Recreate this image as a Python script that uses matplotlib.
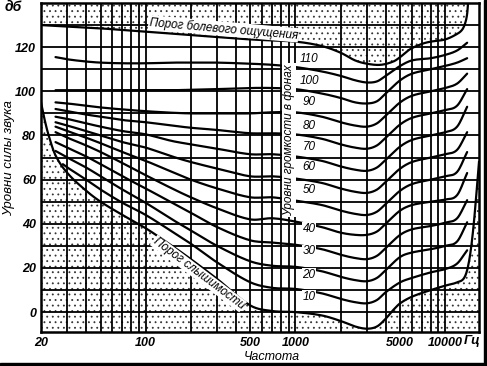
import numpy as np
import matplotlib
matplotlib.use("Agg")
import matplotlib.pyplot as plt

plt.rcParams['font.family'] = ['Liberation Sans', 'DejaVu Sans']
plt.rcParams['hatch.linewidth'] = 0.6

# ---------------- data ----------------
freqs = [25, 30, 40, 50, 70, 100, 150, 200, 300, 500, 700, 1000, 1500, 2000,
         2500, 3000, 3500, 4000, 5000, 6000, 8000, 10000, 12000, 14000]
freqs_10 = [28, 30, 40, 50, 70, 100, 150, 200, 300, 500, 700, 1000, 1500, 2000,
            2500, 3000, 3500, 4000, 5000, 6000, 8000, 10000, 12000, 14000]

phon_110 = [115.5, 114.5, 113.5, 113, 112.7, 112.7, 113, 113, 113, 112.5, 112, 111, 109, 107,
            105, 104, 104.5, 107, 111.5, 114, 115, 116.5, 118.5, 122]
phon_100 = [100.5, 100.5, 100.5, 100.5, 100.5, 100.5, 100.5, 100.7, 101, 101.5, 101.5, 101, 99, 97,
            95, 94.5, 95.5, 99, 105, 108, 110, 111.5, 113, 115]
phon_90 = [95, 94.5, 93.5, 92.7, 91.8, 91, 90.3, 90, 90, 90, 90.5, 90.5, 88.5, 86,
           84.5, 84, 85.5, 89, 95, 98, 100, 101.5, 103.5, 108]
phon_80 = [92, 91, 89.5, 88.5, 87, 86, 84.5, 83.5, 82.5, 81, 81, 80.5, 78.5, 76,
           74.5, 74, 75.5, 79, 85, 88, 90, 91.5, 93.5, 101]
phon_70 = [88.5, 87.5, 85.5, 84, 82, 80.5, 77.5, 76, 74, 71.5, 71.5, 70.5, 68.5, 66,
           64.5, 64, 65.5, 69, 75, 78, 80, 81.5, 84, 93]
phon_60 = [86, 84.5, 82, 80, 77, 74.5, 70.5, 68, 65, 61.5, 61.5, 60.5, 58.5, 56,
           54.5, 54, 55.5, 59, 65, 68, 70, 71.5, 73.5, 81.5]
phon_50 = [84, 82, 79, 76.5, 72.5, 68.5, 63.5, 60, 56, 52, 52, 50.5, 48.5, 46,
           44.5, 44, 45.5, 49, 55, 58, 60, 61.5, 63.5, 72.5]
phon_40 = [81.5, 79, 75.5, 72.5, 67.5, 62, 56, 52, 47, 42, 42.5, 41, 38.5, 36,
           35, 35, 36.5, 40, 46, 48.5, 50, 51, 53, 63]
phon_30 = [77, 74.5, 70.5, 67, 61.5, 56, 49.5, 45, 38.5, 32.5, 31.5, 30.5, 28.5, 26,
           24.5, 24, 25.5, 29, 35, 37.5, 39, 40.5, 42.5, 50.7]
phon_20 = [73, 70, 65.5, 61.5, 55.5, 49.5, 42, 37, 30, 23, 21, 20.5, 18.5, 16,
           14.5, 14, 15.5, 19, 25, 27, 28.5, 30, 32, 40.7]
phon_10 = [67, 65.5, 60, 55.5, 49.5, 44, 36.5, 31, 22.5, 13.5, 11, 10.5, 8.5, 6,
           4.5, 4, 5.5, 9, 13.5, 15.5, 18, 19.5, 22, 28]

threshold_f = [20, 21, 22.5, 25, 30, 40, 50, 70, 100, 150, 200, 300, 500, 700, 1000, 1500,
               2000, 2500, 3000, 3500, 4000, 4500, 5000, 6000, 8000, 10000, 12000, 13500,
               14500, 15500, 16800]
threshold_db = [95, 88, 80, 71, 63, 55, 50, 44, 38, 30, 24, 15, 3, 0.5, 0, -1.5,
                -4, -6.5, -7.5, -6.5, -3, 1, 4, 7, 10, 12, 13.5, 16,
                24, 40, 68]

pain_f = [20, 50, 100, 200, 500, 1000, 1500, 2000, 2500, 3000, 3700, 4500, 5000, 5800,
          7000, 8000, 10000, 12000, 13000, 13600, 14000, 14200]
pain_db = [130, 128.5, 127, 125.5, 123.5, 122.5, 120.5, 117.5, 114, 112.5, 112, 113.5, 115.5, 119,
           121.5, 122.5, 123.5, 126, 128, 131, 135, 140]

phon_levels = [110, 100, 90, 80, 70, 60, 50, 40, 30, 20, 10]
phon_curves = [phon_110, phon_100, phon_90, phon_80, phon_70, phon_60,
               phon_50, phon_40, phon_30, phon_20, phon_10]
label_db = [114.5, 104.5, 95, 84.5, 75, 65.5, 55.5, 37.5, 27.5, 17, 7]

x_ticks = [20, 100, 500, 1000, 5000, 10000]
y_ticks = [0, 20, 40, 60, 80, 100, 120]


def smooth(f, d, n=16):
    """cubic Hermite through the read points, in log-frequency."""
    x = np.log10(np.asarray(f, float))
    y = np.asarray(d, float)
    m = np.empty_like(y)
    m[1:-1] = (y[2:] - y[:-2]) / (x[2:] - x[:-2])
    m[0] = (y[1] - y[0]) / (x[1] - x[0])
    m[-1] = (y[-1] - y[-2]) / (x[-1] - x[-2])
    xs, ys = [], []
    t = np.linspace(0, 1, n, endpoint=False)
    for i in range(len(x) - 1):
        h = x[i + 1] - x[i]
        h00 = 2 * t**3 - 3 * t**2 + 1
        h10 = t**3 - 2 * t**2 + t
        h01 = -2 * t**3 + 3 * t**2
        h11 = t**3 - t**2
        xs.append(x[i] + t * h)
        ys.append(h00 * y[i] + h10 * h * m[i] + h01 * y[i + 1] + h11 * h * m[i + 1])
    xs.append([x[-1]])
    ys.append([y[-1]])
    return 10 ** np.concatenate(xs), np.concatenate(ys)


W, H = 487, 366
fig = plt.figure(figsize=(W / 100, H / 100), dpi=100)
ax = fig.add_axes([41 / W, 1 - 332 / H, 438 / W, 329 / H])
ax.set_xscale('log')
XMIN, XMAX, YMIN, YMAX = 20, 16800, -9, 140
ax.set_xlim(XMIN, XMAX)
ax.set_ylim(YMIN, YMAX)

# stippled regions
tf, td = smooth(threshold_f, threshold_db)
ax.fill_between(tf, YMIN, td, facecolor='white', edgecolor='#333333', hatch='...',
                linewidth=0, zorder=1)
pf, pd = smooth(pain_f, pain_db)
ax.fill_between(pf, pd, YMAX, facecolor='white', edgecolor='#333333', hatch='...',
                linewidth=0, zorder=1)

# grid
minor = [v for v in range(20, 100, 10)] + [v for v in range(100, 1000, 100)] + \
        [v for v in range(1000, 11000, 1000)]
for v in minor:
    ax.axvline(v, color='black', lw=1.3, zorder=2)
for v in range(0, 140, 10):
    ax.axhline(v, color='black', lw=1.3, zorder=2)

# boundary lines
ax.plot(tf, td, color='black', lw=1.6, zorder=3)
ax.plot(pf, pd, color='black', lw=1.6, zorder=3)

# equal loudness curves
for lvl, vals in zip(phon_levels, phon_curves):
    fr = freqs_10 if lvl == 10 else freqs
    sf, sd = smooth(fr, vals)
    ax.plot(sf, sd, color='black', lw=1.6, zorder=4, solid_capstyle='round')

for lvl, yl in zip(phon_levels, label_db):
    ax.text(1230, yl, str(lvl), fontsize=8.5, style='italic', ha='center', va='center',
            zorder=6, bbox=dict(facecolor='white', edgecolor='none', pad=0.6))

ax.text(905, 78, 'Уровни громкости в фонах', rotation=90, fontsize=8.5, style='italic',
        ha='center', va='center', zorder=6,
        bbox=dict(facecolor='white', edgecolor='none', pad=1.0))
ax.text(330, 128.3, 'Порог болевого ощущения', rotation=-5, fontsize=8.5, style='italic',
        ha='center', va='center', zorder=6,
        bbox=dict(facecolor='white', edgecolor='none', pad=0.5))
ax.text(225, 17.5, 'Порог слышимости', rotation=-37, fontsize=8.5, style='italic',
        ha='center', va='center', zorder=6,
        bbox=dict(facecolor='white', edgecolor='none', pad=0.3))

ax.set_xticks(x_ticks)
ax.set_xticklabels([str(v) for v in x_ticks])
ax.set_xticks([], minor=True)
ax.set_yticks(y_ticks)
ax.set_yticklabels([str(v) for v in y_ticks])
ax.tick_params(length=0, labelsize=9, pad=3.5)
for lab in ax.get_xticklabels() + ax.get_yticklabels():
    lab.set_style('italic')
    lab.set_fontweight('bold')
for s in ax.spines.values():
    s.set_linewidth(1.8)
    s.set_zorder(7)

fig.text(9 / W, 1 - 158 / H, 'Уровни силы звука', rotation=90, fontsize=9.5,
         style='italic', ha='center', va='center')
fig.text(13 / W, 1 - 7 / H, 'дб', fontsize=10, style='italic', fontweight='bold',
         ha='center', va='center')
fig.text(472 / W, 1 - 341 / H, 'Гц', fontsize=9.5, style='italic', fontweight='bold',
         ha='center', va='center')
fig.text(272 / W, 1 - 357 / H, 'Частота', fontsize=9, style='italic', ha='center',
         va='center')

# dark scan border at the right and bottom
fig.patches.append(plt.Rectangle((0, 0), 1, 3 / H, transform=fig.transFigure,
                                 color='black', zorder=10))
fig.patches.append(plt.Rectangle((1 - 3 / W, 0), 3 / W, 1, transform=fig.transFigure,
                                 color='black', zorder=10))

fig.savefig('out.png', dpi=100)
